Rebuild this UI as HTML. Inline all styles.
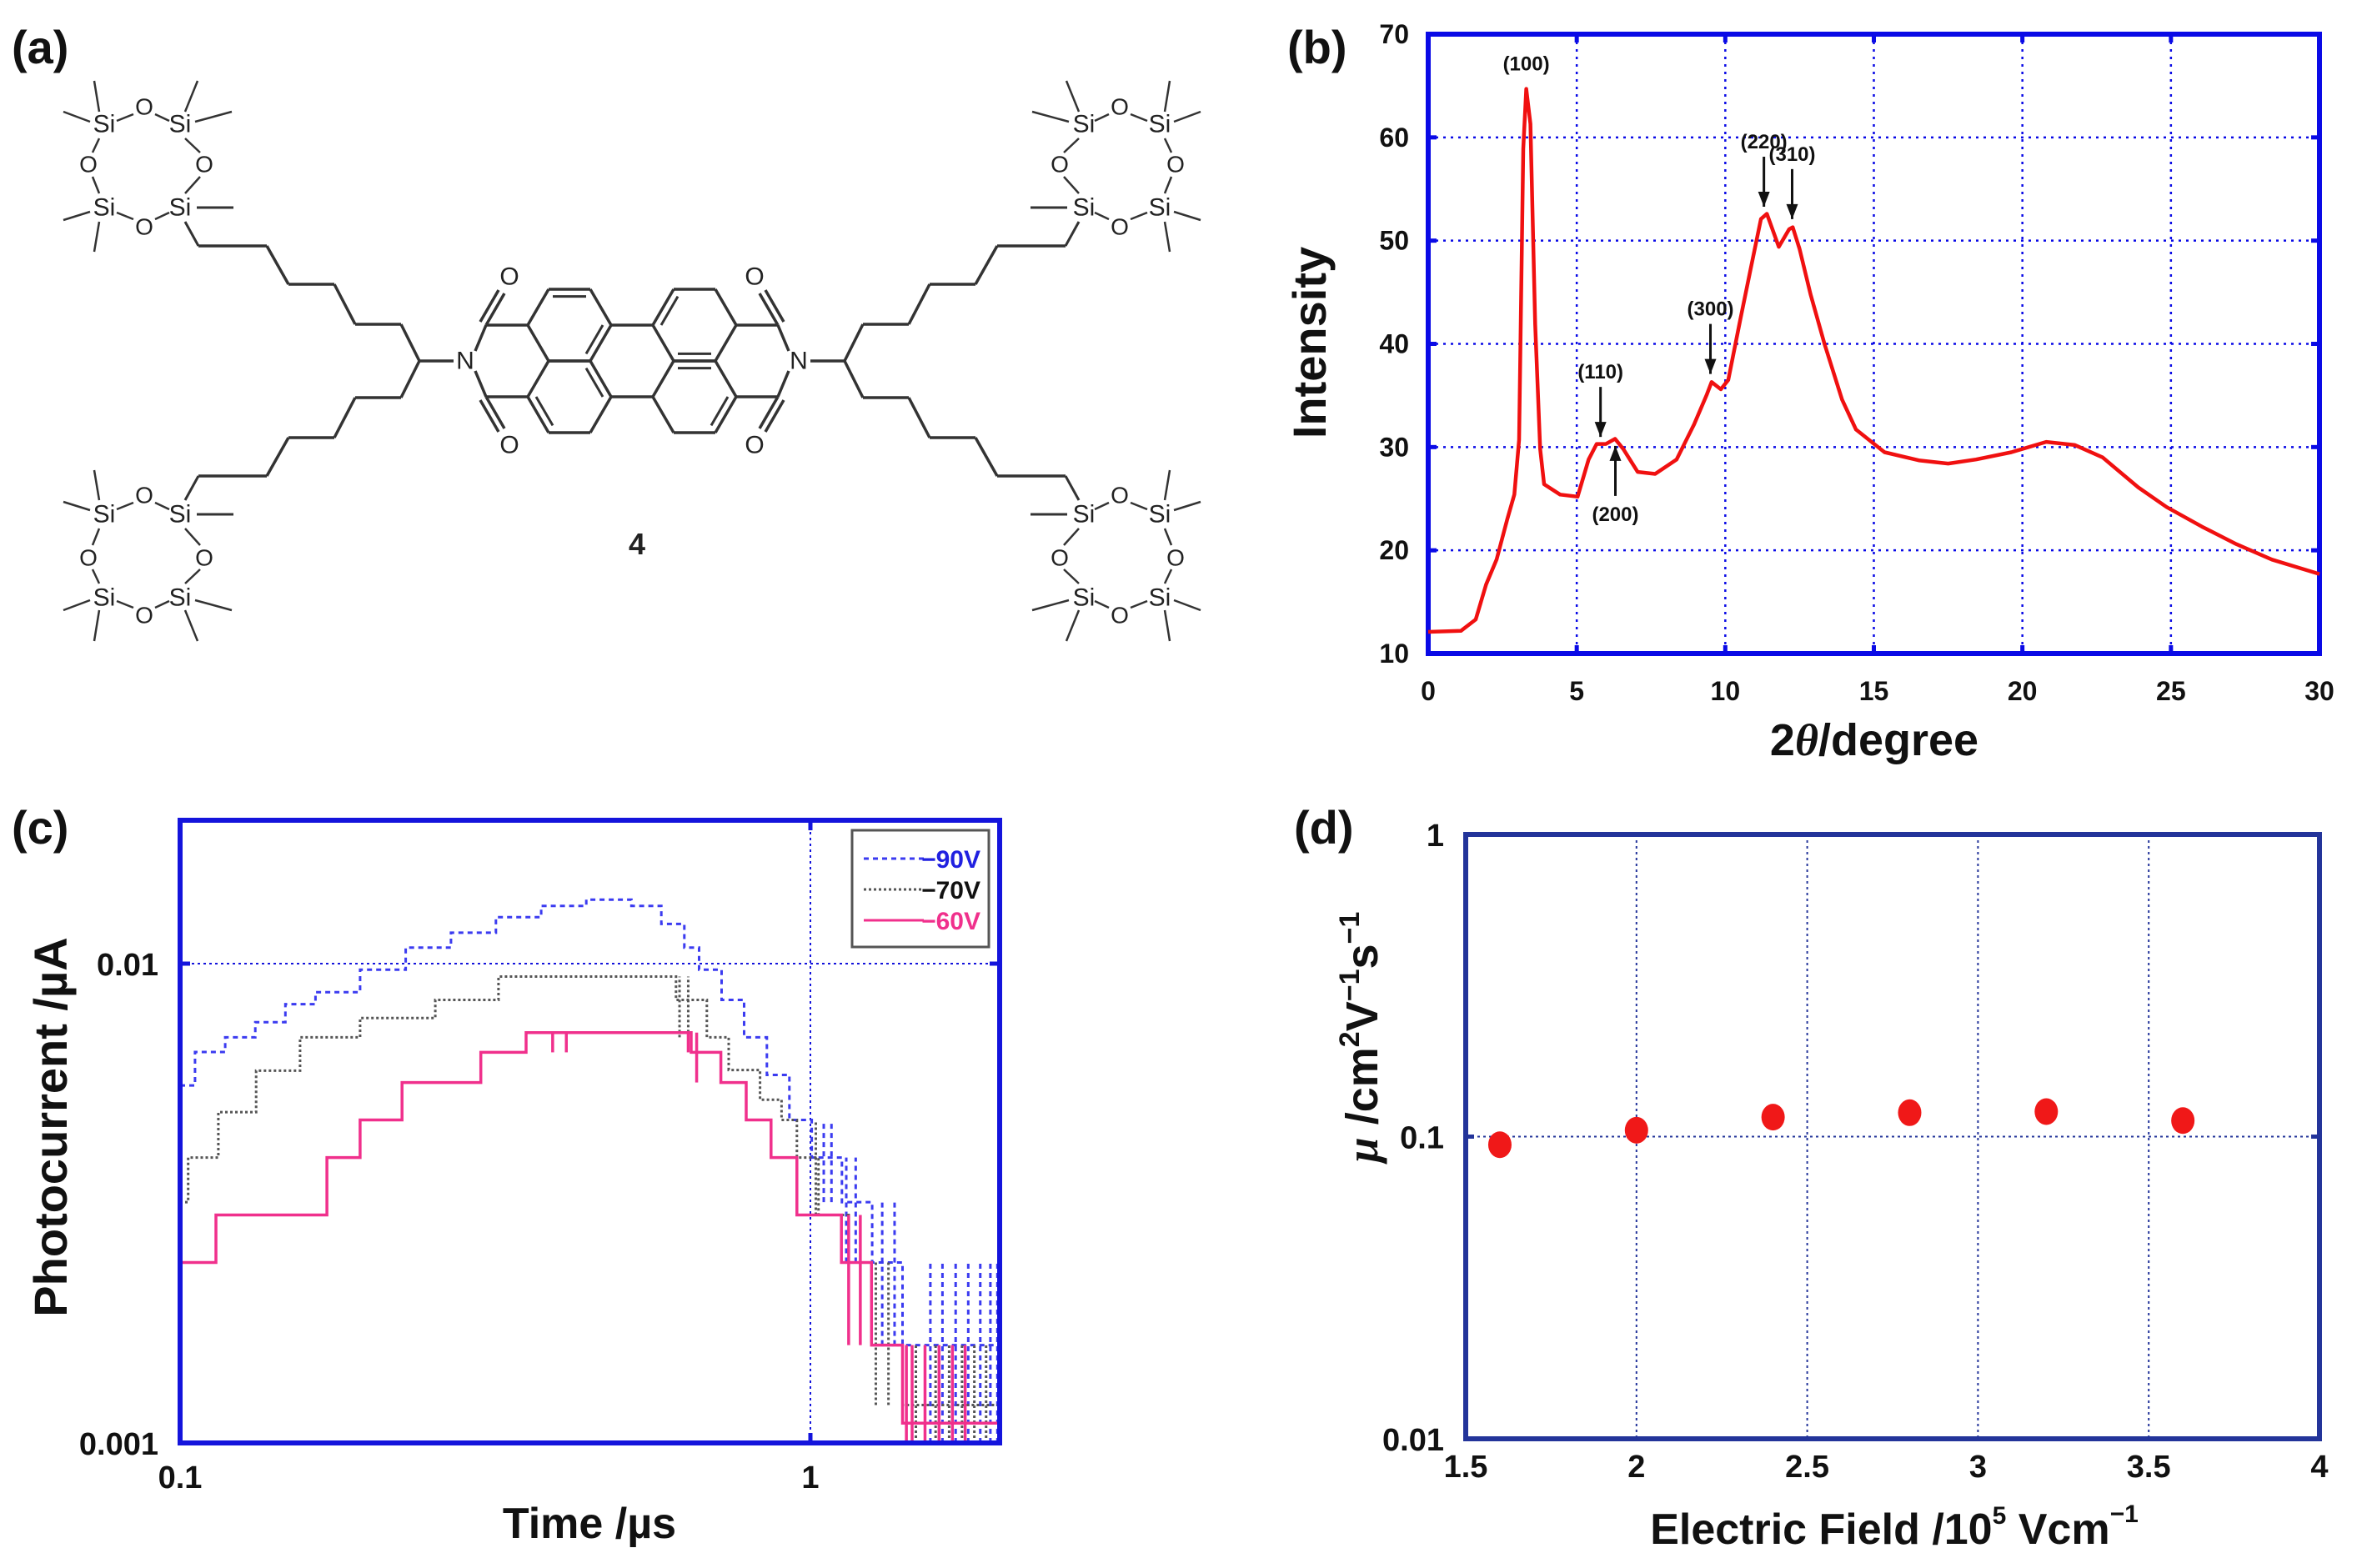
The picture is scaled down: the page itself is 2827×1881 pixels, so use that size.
<!DOCTYPE html>
<html><head><meta charset="utf-8">
<style>
html,body{margin:0;padding:0;background:#fff;}
svg{display:block;font-family:"Liberation Sans",Arial,sans-serif;}
</style></head>
<body>
<svg id="fig" width="2827" height="1881" viewBox="0 0 2827 1881" xmlns="http://www.w3.org/2000/svg">
<rect width="2827" height="1881" fill="#fff"/>
<g id="pa"></g>
<g id="pb"></g>
<g id="pc"></g>
<g id="pd"></g>
</svg>
<script>
// ---------- Panel b data ----------
const xrdAngle = [0,1.1,1.6,1.95,2.3,2.66,2.9,3.06,3.2,3.3,3.44,3.6,3.77,3.9,4.44,5.03,5.4,5.67,5.98,6.29,6.57,7.05,7.64,8.36,8.95,9.38,9.54,9.85,10.1,10.5,10.85,11.2,11.4,11.8,12.15,12.27,12.5,12.87,13.34,13.93,14.4,15.36,16.54,17.5,18.44,19.63,20.8,21.77,22.7,23.9,24.85,26.04,27.2,28.4,30];
const xrdIntensity = [12.1,12.2,13.3,16.7,19.1,23,25.4,30.7,58.9,64.7,61.3,41.9,29.8,26.4,25.4,25.2,28.8,30.3,30.3,30.8,29.8,27.6,27.4,28.8,32.2,35.1,36.3,35.6,36.5,42.3,47.2,52.1,52.6,49.4,51.1,51.3,49.2,44.8,40,34.6,31.7,29.5,28.7,28.4,28.8,29.5,30.5,30.2,29,26.1,24.2,22.3,20.6,19.1,17.7];
const xrdXTicks = [0,5,10,15,20,25,30];
const xrdYTicks = [10,20,30,40,50,60,70];
const peakLabels = ["(100)","(110)","(200)","(300)","(220)","(310)"];
const peakAngle = [3.3,5.8,6.3,9.5,11.3,12.25];
const peakTop = [64.7,30.5,30.6,36.6,52.8,51.6];
// ---------- Panel c data ----------
const t90 = [0.1,0.1056,0.1179,0.1316,0.1469,0.164,0.193,0.228,0.269,0.317,0.374,0.441,0.52,0.58,0.631,0.666,0.723,0.785,0.853,0.926,1.005,1.122,1.253,1.40,2.0];
const i90 = [0.00557,0.00654,0.00702,0.00755,0.00823,0.00872,0.00971,0.0108,0.0116,0.0125,0.0132,0.0136,0.0132,0.0121,0.0108,0.00971,0.0084,0.00702,0.00586,0.00472,0.00394,0.00318,0.00238,0.0016];
const t70 = [0.1,0.103,0.115,0.132,0.155,0.193,0.254,0.32,0.612,0.685,0.742,0.832,0.90,0.952,1.03,1.15,1.25,1.40,2.0];
const i70 = [0.00318,0.00394,0.0049,0.00598,0.00702,0.0077,0.0084,0.0094,0.0084,0.00702,0.006,0.0052,0.00472,0.00394,0.00299,0.00238,0.0016,0.0012];
const t60 = [0.1,0.114,0.171,0.193,0.225,0.300,0.354,0.647,0.721,0.791,0.866,0.952,1.12,1.25,1.40,2.0];
const i60 = [0.00238,0.00299,0.00394,0.00472,0.00565,0.00653,0.00718,0.00653,0.00565,0.00472,0.00394,0.00299,0.00238,0.0016,0.0011];
const flick90 = [1.05,1.08,1.14,1.18,1.30,1.36,1.55,1.62,1.70,1.78,1.86,1.93,1.98];
const flick70 = [0.62,0.64,1.02,1.27,1.33,1.47,1.58,1.66,1.74,1.82,1.9];
const flick60 = [0.115,0.12,0.135,0.14,0.15,0.27,0.29,0.31,0.39,0.41,0.64,0.66,1.15,1.2,1.42,1.45,1.52,1.6,1.68,1.76];
const cYTicks = [0.001,0.01];
const cXTicks = [0.1,1];
// ---------- Panel d data ----------
const field = [1.6,2.0,2.4,2.8,3.2,3.6];
const mobility = [0.094,0.105,0.116,0.120,0.121,0.113];
const dXTicks = [1.5,2,2.5,3,3.5,4];
const dYTicks = [0.01,0.1,1];
const dYTickText = ["0.01","0.1","1"];

const NS="http://www.w3.org/2000/svg";
function mk(tag,attrs,parent,txt){const e=document.createElementNS(NS,tag);for(const k in attrs)e.setAttribute(k,attrs[k]);if(txt!==undefined)e.textContent=txt;parent.appendChild(e);return e;}

// ---------- Panel a: structure ----------
(function(){
const g=document.getElementById('pa');
const t=mk('text',{x:14,y:76,'font-size':56,'font-weight':'bold',fill:'#111'},document.getElementById('fig'),'(a)');


const cx=758,cy=433;
function line(x1,y1,x2,y2,w){const l=mk('line',{x1:x1,y1:y1,x2:x2,y2:y2,stroke:'#333','stroke-width':w||3.5},g);return l;}
function txt(x,y,s,fs){const e=mk('text',{x:x,y:y,'font-size':fs||30,'text-anchor':'middle','dominant-baseline':'central',fill:'#222'},g,s);

return e;}
const s=50,h=43;
const xL=cx-75,xR=cx+75;
function hex(x0,y0){const p=[[x0-s,y0],[x0-s/2,y0-h],[x0+s/2,y0-h],[x0+s,y0],[x0+s/2,y0+h],[x0-s/2,y0+h]];
for(let i=0;i<6;i++){const a=p[i],b=p[(i+1)%6];line(a[0],a[1],b[0],b[1]);}return p;}
const r1=hex(xL,cy-h),r2=hex(xL,cy+h),r3=hex(xR,cy-h),r4=hex(xR,cy+h);
line(xL+s,cy-h,xR-s,cy-h);line(xL+s,cy+h,xR-s,cy+h);
function inner(a,b,x0,y0){const f=0.8;const ax=x0+(a[0]-x0)*f,ay=y0+(a[1]-y0)*f,bx=x0+(b[0]-x0)*f,by=y0+(b[1]-y0)*f;line(ax,ay,bx,by,3);}
inner(r1[1],r1[2],xL,cy-h);inner(r1[3],r1[4],xL,cy-h);inner(r2[5],r2[0],xL,cy+h);
inner(r2[2],r2[3],xL,cy+h);inner(r3[0],r3[1],xR,cy-h);inner(r3[4],r3[5],xR,cy-h);
inner(r4[1],r4[2],xR,cy+h);inner(r4[3],r4[4],xR,cy+h);
[-1,1].forEach(d=>{
 const xa=cx+d*(75+s), xb=cx+d*(75+2*s), xn=cx+d*(75+2.5*s);
 line(xa,cy-h,xb,cy-h);line(xa,cy+h,xb,cy+h);
 line(xb,cy-h,xn-d*12,cy-12);line(xb,cy+h,xn-d*12,cy+12);
 txt(xn,cy,'N');
 line(xb,cy-h,xb-d*22,cy-h-38);line(xb+d*7,cy-h-4,xb-d*15,cy-h-42);
 line(xb,cy+h,xb-d*22,cy+h+38);line(xb+d*7,cy+h+4,xb-d*15,cy+h+42);
 txt(xb-d*28,cy-h-58,'O');txt(xb-d*28,cy+h+58,'O');
 const xc=xn+d*55;
 line(xn+d*14,cy,xc,cy);
 [-1,1].forEach(v=>{
  const pts=[[xc,cy],[xc+d*22,cy+v*44],[xc+d*77,cy+v*44],[xc+d*102,cy+v*92],[xc+d*157,cy+v*92],[xc+d*183,cy+v*138],[xc+d*240,cy+v*138],[xc+d*265,cy+v*138]];
  for(let i=0;i<pts.length-1;i++)line(pts[i][0],pts[i][1],pts[i+1][0],pts[i+1][1]);
  const X=x=>cx-d*(x-cx), Y=y=>cy-v*(y-cy);
  const siTL=[125,149],siTR=[216,149],siBL=[125,249],siBR=[216,249];
  line(X(140),Y(145),X(160),Y(137),2.5);line(X(186),Y(137),X(203),Y(145),2.5);
  line(X(119),Y(166),X(111),Y(183),2.5);line(X(111),Y(212),X(119),Y(232),2.5);
  line(X(222),Y(166),X(240),Y(183),2.5);line(X(240),Y(212),X(222),Y(232),2.5);
  line(X(140),Y(255),X(160),Y(263),2.5);line(X(186),Y(263),X(203),Y(255),2.5);
  line(X(119),Y(134),X(113),Y(97),2.5);line(X(108),Y(146),X(76),Y(134),2.5);
  line(X(222),Y(134),X(237),Y(97),2.5);line(X(234),Y(146),X(278),Y(134),2.5);
  line(X(108),Y(254),X(76),Y(264),2.5);line(X(119),Y(266),X(113),Y(302),2.5);
  line(X(236),Y(249),X(280),Y(249),3);
  line(X(222),Y(266),X(xc+d*265>0?(cx-d*((xc+d*265)-cx)):238),Y(295),3);
  const tl=[[siTL,'Si'],[siTR,'Si'],[siBL,'Si'],[siBR,'Si'],[[173,128],'O'],[[106,197],'O'],[[245,197],'O'],[[173,272],'O']];
  tl.forEach(a=>txt(X(a[0][0]),Y(a[0][1]),a[1],a[1]=='Si'?30:28));
 });
});
const four=mk('text',{x:764,y:665,'font-size':36,'font-weight':'bold','text-anchor':'middle',fill:'#222'},g,'4');


})();

// ---------- Panel b ----------
(function(){
const g=document.getElementById('pb');
const L=1713,R=2782,T=41,B=784;
const xs=v=>L+(v-0)/30*(R-L), ys=v=>B-(v-10)/60*(B-T);
const blue='#0a0ae6';
const lab=mk('text',{x:1544,y:76,'font-size':56,'font-weight':'bold',fill:'#111'},g,'(b)');


xrdXTicks.forEach(v=>{
 if(v>0&&v<30){const l=mk('line',{x1:xs(v),y1:T,x2:xs(v),y2:B,stroke:blue,'stroke-width':2.5,'stroke-dasharray':'3 6'},g);
 
 }
 mk('line',{x1:xs(v),y1:B,x2:xs(v),y2:B-10,stroke:blue,'stroke-width':5},g);
 mk('line',{x1:xs(v),y1:T,x2:xs(v),y2:T+10,stroke:blue,'stroke-width':5},g);
 const t=mk('text',{x:xs(v),y:840,'font-size':32,'font-weight':'bold','text-anchor':'middle',fill:'#111'},g,String(v));
 
 
});
xrdYTicks.forEach(v=>{
 if(v>10&&v<70){const l=mk('line',{x1:L,y1:ys(v),x2:R,y2:ys(v),stroke:blue,'stroke-width':2.5,'stroke-dasharray':'3 6'},g);
 
 }
 mk('line',{x1:L,y1:ys(v),x2:L+10,y2:ys(v),stroke:blue,'stroke-width':5},g);
 mk('line',{x1:R,y1:ys(v),x2:R-10,y2:ys(v),stroke:blue,'stroke-width':5},g);
 const t=mk('text',{x:1690,y:ys(v)+11,'font-size':32,'font-weight':'bold','text-anchor':'end',fill:'#111'},g,String(v));
 
 
});
const fr=mk('rect',{x:L,y:T,width:R-L,height:B-T,fill:'none',stroke:blue,'stroke-width':6},g);


const d=xrdAngle.map((a,i)=>(i?'L':'M')+xs(a).toFixed(1)+','+ys(xrdIntensity[i]).toFixed(1)).join('');
const p=mk('path',{d:d,fill:'none',stroke:'#f01010','stroke-width':4.5,'stroke-linejoin':'round'},g);


peakLabels.forEach((s,i)=>{
 const x=xs(peakAngle[i]);
 if(i===0){const t=mk('text',{x:x,y:ys(peakTop[i])-22,'font-size':24,'font-weight':'bold','text-anchor':'middle',fill:'#111'},g,s);
  
  return;}
 const below=(i===2);
 const yTip=ys(peakTop[i])+(below?6:-6);
 const yEnd=below?yTip+60:yTip-60;
 mk('line',{x1:x,y1:yEnd,x2:x,y2:yTip,stroke:'#111','stroke-width':3},g);
 const ah=below?[[x,yTip],[x-7,yTip+18],[x+7,yTip+18]]:[[x,yTip],[x-7,yTip-18],[x+7,yTip-18]];
 const a=mk('polygon',{points:ah.map(q=>q.join(',')).join(' '),fill:'#111'},g);
 
 
 const ty=below?yEnd+30:yEnd-10;
 const t=mk('text',{x:x,y:ty,'font-size':24,'font-weight':'bold','text-anchor':'middle',fill:'#111'},g,s);
 
 
});
const yt=mk('text',{x:1590,y:411,'font-size':56,'font-weight':'bold','text-anchor':'middle',fill:'#111',transform:'rotate(-90 1590 411)'},g,'Intensity');


const xt=mk('text',{x:2248,y:906,'font-size':54,'font-weight':'bold','text-anchor':'middle',fill:'#111'},g);


xt.innerHTML='2<tspan font-style="italic" font-family="Liberation Serif,serif">θ</tspan>/degree';
})();

// ---------- Panel c ----------
(function(){
const g=document.getElementById('pc');
const L=216,R=1199,T=984,B=1731;
const dec=756, ydec=575;
const xs=v=>L+(Math.log10(v)+1)*dec, ys=v=>B-(Math.log10(v)+3)*ydec;
const blue='#1414dc';
const lab=mk('text',{x:14,y:1012,'font-size':56,'font-weight':'bold',fill:'#111'},g,'(c)');


const gl1=mk('line',{x1:L,y1:ys(0.01),x2:R,y2:ys(0.01),stroke:blue,'stroke-width':2,'stroke-dasharray':'3 4'},g);


const gl2=mk('line',{x1:xs(1),y1:T,x2:xs(1),y2:B,stroke:blue,'stroke-width':2,'stroke-dasharray':'3 4'},g);


function steps(ts,is,color,w,dash,name,flick){
 let d='';
 for(let k=0;k<is.length;k++){
  d+=(k?'L':'M')+xs(ts[k]).toFixed(1)+','+ys(is[k]).toFixed(1)+'L'+xs(ts[k+1]).toFixed(1)+','+ys(is[k]).toFixed(1);
 }
 const p=mk('path',{d:d,fill:'none',stroke:color,'stroke-width':w,'stroke-dasharray':dash},g);
 
 
 flick.forEach(tv=>{
  let k=0;while(k<is.length-1&&ts[k+1]<=tv)k++;
  const lo=Math.min(is[k], k+1<is.length?is[k+1]:0.001), hi=Math.max(is[k],k>0?is[k-1]:is[k]);
  const f=mk('line',{x1:xs(tv),y1:ys(Math.max(lo,0.001)),x2:xs(tv),y2:ys(hi),stroke:color,'stroke-width':w,'stroke-dasharray':dash},g);
  
  
 });
}
steps(t90,i90,'#3b3bf0',3,'6 5','series-90v',flick90);
steps(t70,i70,'#555',3,'3 3','series-70v',flick70);
steps(t60,i60,'#f0308c',3.5,'none','series-60v',flick60);
cXTicks.forEach(v=>{
 mk('line',{x1:xs(v),y1:B,x2:xs(v),y2:B-12,stroke:blue,'stroke-width':5},g);
 mk('line',{x1:xs(v),y1:T,x2:xs(v),y2:T+12,stroke:blue,'stroke-width':5},g);
 const t=mk('text',{x:xs(v),y:1785,'font-size':38,'font-weight':'bold','text-anchor':'middle',fill:'#111'},g,String(v));
 
 
});
cYTicks.forEach(v=>{
 mk('line',{x1:L,y1:ys(v),x2:L+12,y2:ys(v),stroke:blue,'stroke-width':5},g);
 mk('line',{x1:R,y1:ys(v),x2:R-12,y2:ys(v),stroke:blue,'stroke-width':5},g);
 const t=mk('text',{x:L-26,y:ys(v)+14,'font-size':38,'font-weight':'bold','text-anchor':'end',fill:'#111'},g,String(v));
 
 
});
const fr=mk('rect',{x:L,y:T,width:R-L,height:B-T,fill:'none',stroke:blue,'stroke-width':6},g);


const lg=mk('g',{},g);


mk('rect',{x:1022,y:996,width:164,height:140,fill:'#fff',stroke:'#555','stroke-width':3},lg);
const ent=[['−90V','#3b3bf0','6 5','#2020e0'],['−70V','#555','3 3','#111'],['−60V','#f0308c','none','#f0308c']];
ent.forEach((e,i)=>{
 const y=1030+i*37;
 const l=mk('line',{x1:1036,y1:y,x2:1108,y2:y,stroke:e[1],'stroke-width':3,'stroke-dasharray':e[2]},lg);
 
 
 const t=mk('text',{x:1176,y:y+11,'font-size':30,'font-weight':'bold','text-anchor':'end',fill:e[3]},lg,e[0]);
 
 
});
const yt=mk('text',{x:80,y:1352,'font-size':56,'font-weight':'bold','text-anchor':'middle',fill:'#111',transform:'rotate(-90 80 1352)'},g,'Photocurrent /µA');


const xt=mk('text',{x:707,y:1845,'font-size':52,'font-weight':'bold','text-anchor':'middle',fill:'#111'},g,'Time /µs');


})();

// ---------- Panel d ----------
(function(){
const g=document.getElementById('pd');
const L=1758,R=2782,T=1001,B=1726;
const xs=v=>L+(v-1.5)/2.5*(R-L), ys=v=>B-(Math.log10(v)+2)/2*(B-T);
const navy='#23349a';
const lab=mk('text',{x:1552,y:1012,'font-size':56,'font-weight':'bold',fill:'#111'},g,'(d)');


dXTicks.forEach(v=>{
 if(v>1.5&&v<4){const l=mk('line',{x1:xs(v),y1:T,x2:xs(v),y2:B,stroke:navy,'stroke-width':2,'stroke-dasharray':'3 4'},g);
 
 }
 const t=mk('text',{x:xs(v),y:1772,'font-size':38,'font-weight':'bold','text-anchor':'middle',fill:'#111'},g,String(v));
 
 
});
dYTicks.forEach((v,i)=>{
 if(v>0.01&&v<1){const l=mk('line',{x1:L,y1:ys(v),x2:R,y2:ys(v),stroke:navy,'stroke-width':2,'stroke-dasharray':'3 4'},g);
 
 
 mk('line',{x1:L,y1:ys(v),x2:L+10,y2:ys(v),stroke:navy,'stroke-width':5},g);
 mk('line',{x1:R,y1:ys(v),x2:R-10,y2:ys(v),stroke:navy,'stroke-width':5},g);}
 const t=mk('text',{x:1732,y:ys(v)+14,'font-size':38,'font-weight':'bold','text-anchor':'end',fill:'#111'},g,dYTickText[i]);
 
 
});
const fr=mk('rect',{x:L,y:T,width:R-L,height:B-T,fill:'none',stroke:navy,'stroke-width':6},g);


field.forEach((f,i)=>{
 const c=mk('ellipse',{cx:xs(f),cy:ys(mobility[i]),rx:14,ry:16,fill:'#f01818'},g);
 
 
});
const yt=mk('text',{x:1652,y:1244,'font-size':54,'font-weight':'bold','text-anchor':'middle',fill:'#111',transform:'rotate(-90 1652 1244)'},g);


yt.innerHTML='<tspan font-style="italic" font-family="Liberation Serif,serif">μ</tspan> /cm<tspan font-size="34" dy="-22">2</tspan><tspan dy="22">V</tspan><tspan font-size="34" dy="-22">−1</tspan><tspan dy="22">s</tspan><tspan font-size="34" dy="-22">−1</tspan>';
const xt=mk('text',{x:2272,y:1852,'font-size':52,'font-weight':'bold','text-anchor':'middle',fill:'#111'},g);


xt.innerHTML='Electric Field /10<tspan font-size="30" dy="-24">5</tspan><tspan dy="24"> Vcm</tspan><tspan font-size="30" dy="-26">−1</tspan>';
})();
</script>
</body></html>
